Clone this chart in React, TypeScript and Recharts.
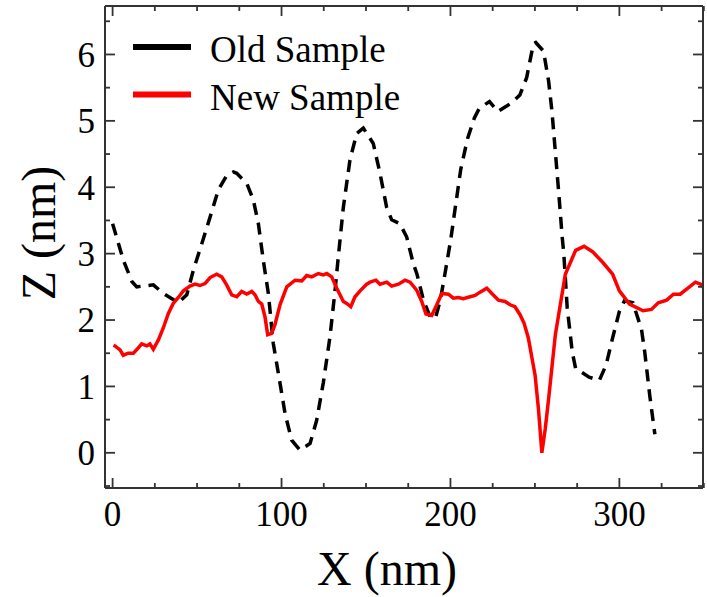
import React from 'react';
import { LineChart, Line, XAxis, YAxis, Legend, Label } from 'recharts';

// Old sample profile (dashed black)
const oldX = [0, 6.4, 11.4, 14.3, 24.1, 30.1, 38.9, 43.9, 47.8, 52.8, 57.7, 62.6, 67.6, 71.5, 73.5, 79.4, 83.3, 86.3, 89.2, 92.2, 95.1, 99.1, 102.1, 106, 110.9, 116.9, 120.8, 124.7, 128.7, 131.7, 133.6, 136.6, 140.5, 144.5, 148.4, 154.3, 158.3, 162.2, 165.2, 170.1, 174.1, 178, 180.2, 184.1, 188.1, 191.1, 194.1, 197.1, 200.1, 202.1, 206.1, 210.1, 214.1, 217.1, 223.1, 228.1, 236.1, 241.1, 245.1, 249.1, 250.5, 255.1, 258.1, 260.1, 262.1, 264.1, 266.1, 267.1, 269.1, 272.1, 274.1, 282.1, 288.1, 292.1, 296, 300, 303, 308, 313.1, 315, 318, 321];
const oldZ = [3.45, 2.9, 2.58, 2.5, 2.53, 2.4, 2.26, 2.38, 2.75, 3.15, 3.55, 3.96, 4.18, 4.23, 4.21, 4.06, 3.81, 3.45, 2.9, 2.4, 1.65, 1.05, 0.59, 0.19, 0.04, 0.14, 0.49, 1.05, 1.75, 2.45, 2.95, 3.7, 4.41, 4.81, 4.89, 4.66, 4.21, 3.7, 3.51, 3.45, 3.25, 2.85, 2.69, 2.29, 2.04, 2.03, 2.31, 2.75, 3.2, 3.56, 4.27, 4.73, 5.04, 5.19, 5.29, 5.14, 5.27, 5.39, 5.65, 6.16, 6.18, 6.05, 5.6, 5.14, 4.53, 3.92, 3.26, 3.0, 2.19, 1.52, 1.27, 1.14, 1.09, 1.32, 1.73, 2.13, 2.29, 2.26, 1.86, 1.52, 0.86, 0.28];

// New sample profile (solid red)
const newX = [0.5, 1.4, 4.4, 6.3, 9.3, 12.3, 15.2, 17.2, 20.2, 22.1, 24.1, 27.1, 30, 33, 35.9, 38.9, 41.9, 45.8, 48.8, 51.7, 54.7, 57.7, 61.6, 64.6, 67.5, 70.5, 73.5, 76.4, 79.4, 82.4, 84.3, 86.3, 88.3, 90.2, 91.8, 94.2, 96.1, 99.1, 103.1, 108, 112, 114.9, 117.9, 121.8, 124.7, 126.8, 129.7, 132.7, 136.6, 138.6, 141, 143.5, 146.5, 150.4, 152.4, 155.9, 158.3, 162.3, 165.2, 169.2, 173.1, 176.1, 180, 183, 185.5, 188.9, 191.9, 194.9, 198.8, 201.7, 204.7, 207.6, 211.6, 214.6, 217.5, 221.5, 224.5, 228.4, 232.3, 235.3, 238.2, 241.2, 243.6, 246.1, 250.1, 252.1, 254.1, 256.1, 258.1, 262.1, 268, 274.1, 279.1, 284.1, 290.1, 296, 300, 306, 314, 319, 323, 328, 332, 336, 340, 345, 349, 350];
const newZ = [1.62, 1.61, 1.55, 1.47, 1.5, 1.5, 1.58, 1.64, 1.61, 1.64, 1.56, 1.7, 1.88, 2.1, 2.25, 2.34, 2.44, 2.51, 2.54, 2.52, 2.55, 2.64, 2.69, 2.65, 2.53, 2.38, 2.35, 2.43, 2.39, 2.43, 2.38, 2.28, 2.24, 2.05, 1.78, 1.8, 1.93, 2.23, 2.5, 2.6, 2.59, 2.67, 2.65, 2.7, 2.68, 2.7, 2.65, 2.48, 2.28, 2.25, 2.2, 2.35, 2.44, 2.54, 2.57, 2.6, 2.54, 2.57, 2.51, 2.54, 2.6, 2.57, 2.45, 2.28, 2.09, 2.07, 2.23, 2.4, 2.39, 2.33, 2.34, 2.32, 2.35, 2.37, 2.42, 2.48, 2.4, 2.3, 2.28, 2.23, 2.2, 2.08, 1.95, 1.73, 1.17, 0.66, 0.0, 0.36, 0.81, 1.78, 2.69, 3.05, 3.11, 3.03, 2.87, 2.69, 2.44, 2.24, 2.14, 2.16, 2.26, 2.3, 2.39, 2.39, 2.47, 2.57, 2.53, 2.47];

const seriesNames = ['Old Sample', 'New Sample'];
const xTicks = [0, 25, 50, 75, 100, 125, 150, 175, 200, 225, 250, 275, 300, 325, 350];
const xLabels = [0, 100, 200, 300];
const zTicks = [-0.5, 0, 0.5, 1, 1.5, 2, 2.5, 3, 3.5, 4, 4.5, 5, 5.5, 6, 6.5];
const zLabels = [0, 1, 2, 3, 4, 5, 6];

const oldData = oldX.map((x, i) => ({ x, z: oldZ[i] }));
const newData = newX.map((x, i) => ({ x, z: newZ[i] }));

const FONT = '"Liberation Serif", "Times New Roman", serif';
const AXIS = '#333';
const X_DOMAIN = [-4.5, 349.5];
const Z_DOMAIN = [-0.53, 6.73];
const MAJ = 10;
const MIN = 5;

// tick marks point into the plot, labels only on the major ones
const BottomTick = ({ x, y, payload }: any) => {
  const major = xLabels.includes(payload.value);
  return (
    <g>
      <path d={`M${x},${y - 2}V${y - 2 - (major ? MAJ : MIN)}`} stroke={AXIS} strokeWidth={1.8} fill="none" />
      {major && (
        <text x={x} y={y + 36} textAnchor="middle" fontSize={35} fontFamily={FONT} fill="#000">
          {payload.value}
        </text>
      )}
    </g>
  );
};

const TopTick = ({ x, y, payload }: any) => {
  const major = xLabels.includes(payload.value);
  return <path d={`M${x},${y + 2}V${y + 2 + (major ? MAJ : MIN)}`} stroke={AXIS} strokeWidth={1.8} fill="none" />;
};

const LeftTick = ({ x, y, payload }: any) => {
  const major = zLabels.includes(payload.value);
  return (
    <g>
      <path d={`M${x + 2},${y}H${x + 2 + (major ? MAJ : MIN)}`} stroke={AXIS} strokeWidth={1.8} fill="none" />
      {major && (
        <text x={x - 8} y={y} dy="0.355em" textAnchor="end" fontSize={35} fontFamily={FONT} fill="#000">
          {payload.value}
        </text>
      )}
    </g>
  );
};

const RightTick = ({ x, y, payload }: any) => {
  const major = zLabels.includes(payload.value);
  return <path d={`M${x - 2},${y}H${x - 2 - (major ? MAJ : MIN)}`} stroke={AXIS} strokeWidth={1.8} fill="none" />;
};

const XTitle = ({ viewBox }: any) => (
  <text x={viewBox.x + viewBox.width / 2 - 17} y={viewBox.y + 97} textAnchor="middle" fontSize={48} fontFamily={FONT} fill="#000">
    X (nm)
  </text>
);

const ZTitle = ({ viewBox }: any) => {
  const cx = viewBox.x + 55;
  const cy = viewBox.y + viewBox.height / 2 - 14;
  return (
    <text x={cx} y={cy} transform={`rotate(-90, ${cx}, ${cy})`} textAnchor="middle" fontSize={48} fontFamily={FONT} fill="#000">
      Z (nm)
    </text>
  );
};

const renderLegend = (props: any) => {
  const items = [...(props.payload || [])].sort(
    (a: any, b: any) => seriesNames.indexOf(a.value) - seriesNames.indexOf(b.value)
  );
  return (
    <svg width={300} height={100}>
      {items.map((e: any, i: number) => (
        <g key={e.value}>
          <line x1={0} x2={58} y1={18 + i * 47.5} y2={18 + i * 47.5} stroke={e.color} strokeWidth={6} />
          <text x={77} y={33 + i * 47.5} fontSize={37} fontFamily={FONT} fill="#000">
            {e.value}
          </text>
        </g>
      ))}
    </svg>
  );
};

export default function App() {
  return (
    <div style={{ position: 'absolute', left: 0, top: 0, width: 707, height: 597, background: '#fff' }}>
      <LineChart width={707} height={597} margin={{ top: 5, right: 3, bottom: 0, left: 0 }}>
        <XAxis xAxisId="b" type="number" dataKey="x" domain={X_DOMAIN} allowDataOverflow ticks={xTicks} interval={0}
          height={109} tickSize={0} tickLine={false} tick={<BottomTick />} axisLine={{ stroke: AXIS, strokeWidth: 2 }}>
          <Label content={<XTitle />} />
        </XAxis>
        <XAxis xAxisId="t" orientation="top" type="number" dataKey="x" domain={X_DOMAIN} allowDataOverflow ticks={xTicks} interval={0}
          height={1} tickSize={0} tickLine={false} tick={<TopTick />} axisLine={{ stroke: AXIS, strokeWidth: 2 }} />
        <YAxis yAxisId="l" type="number" domain={Z_DOMAIN} allowDataOverflow ticks={zTicks} interval={0}
          width={105} tickSize={0} tickLine={false} tick={<LeftTick />} axisLine={{ stroke: AXIS, strokeWidth: 2 }}>
          <Label content={<ZTitle />} />
        </YAxis>
        <YAxis yAxisId="r" orientation="right" type="number" domain={Z_DOMAIN} allowDataOverflow ticks={zTicks} interval={0}
          width={1} tickSize={0} tickLine={false} tick={<RightTick />} axisLine={{ stroke: AXIS, strokeWidth: 2 }} />
        <Legend layout="horizontal" verticalAlign="middle" align="center" content={renderLegend}
          wrapperStyle={{ left: 133, top: 29, width: 300, height: 100 }} />
        <Line xAxisId="t" yAxisId="r" name="Old Sample" data={oldData} dataKey="z" type="linear" stroke="#000000"
          strokeWidth={3.5} strokeDasharray="12 8" dot={false} activeDot={false} isAnimationActive={false} />
        <Line xAxisId="b" yAxisId="l" name="New Sample" data={newData} dataKey="z" type="linear" stroke="#ff0000"
          strokeWidth={3.5} dot={false} activeDot={false} isAnimationActive={false} />
      </LineChart>
    </div>
  );
}
